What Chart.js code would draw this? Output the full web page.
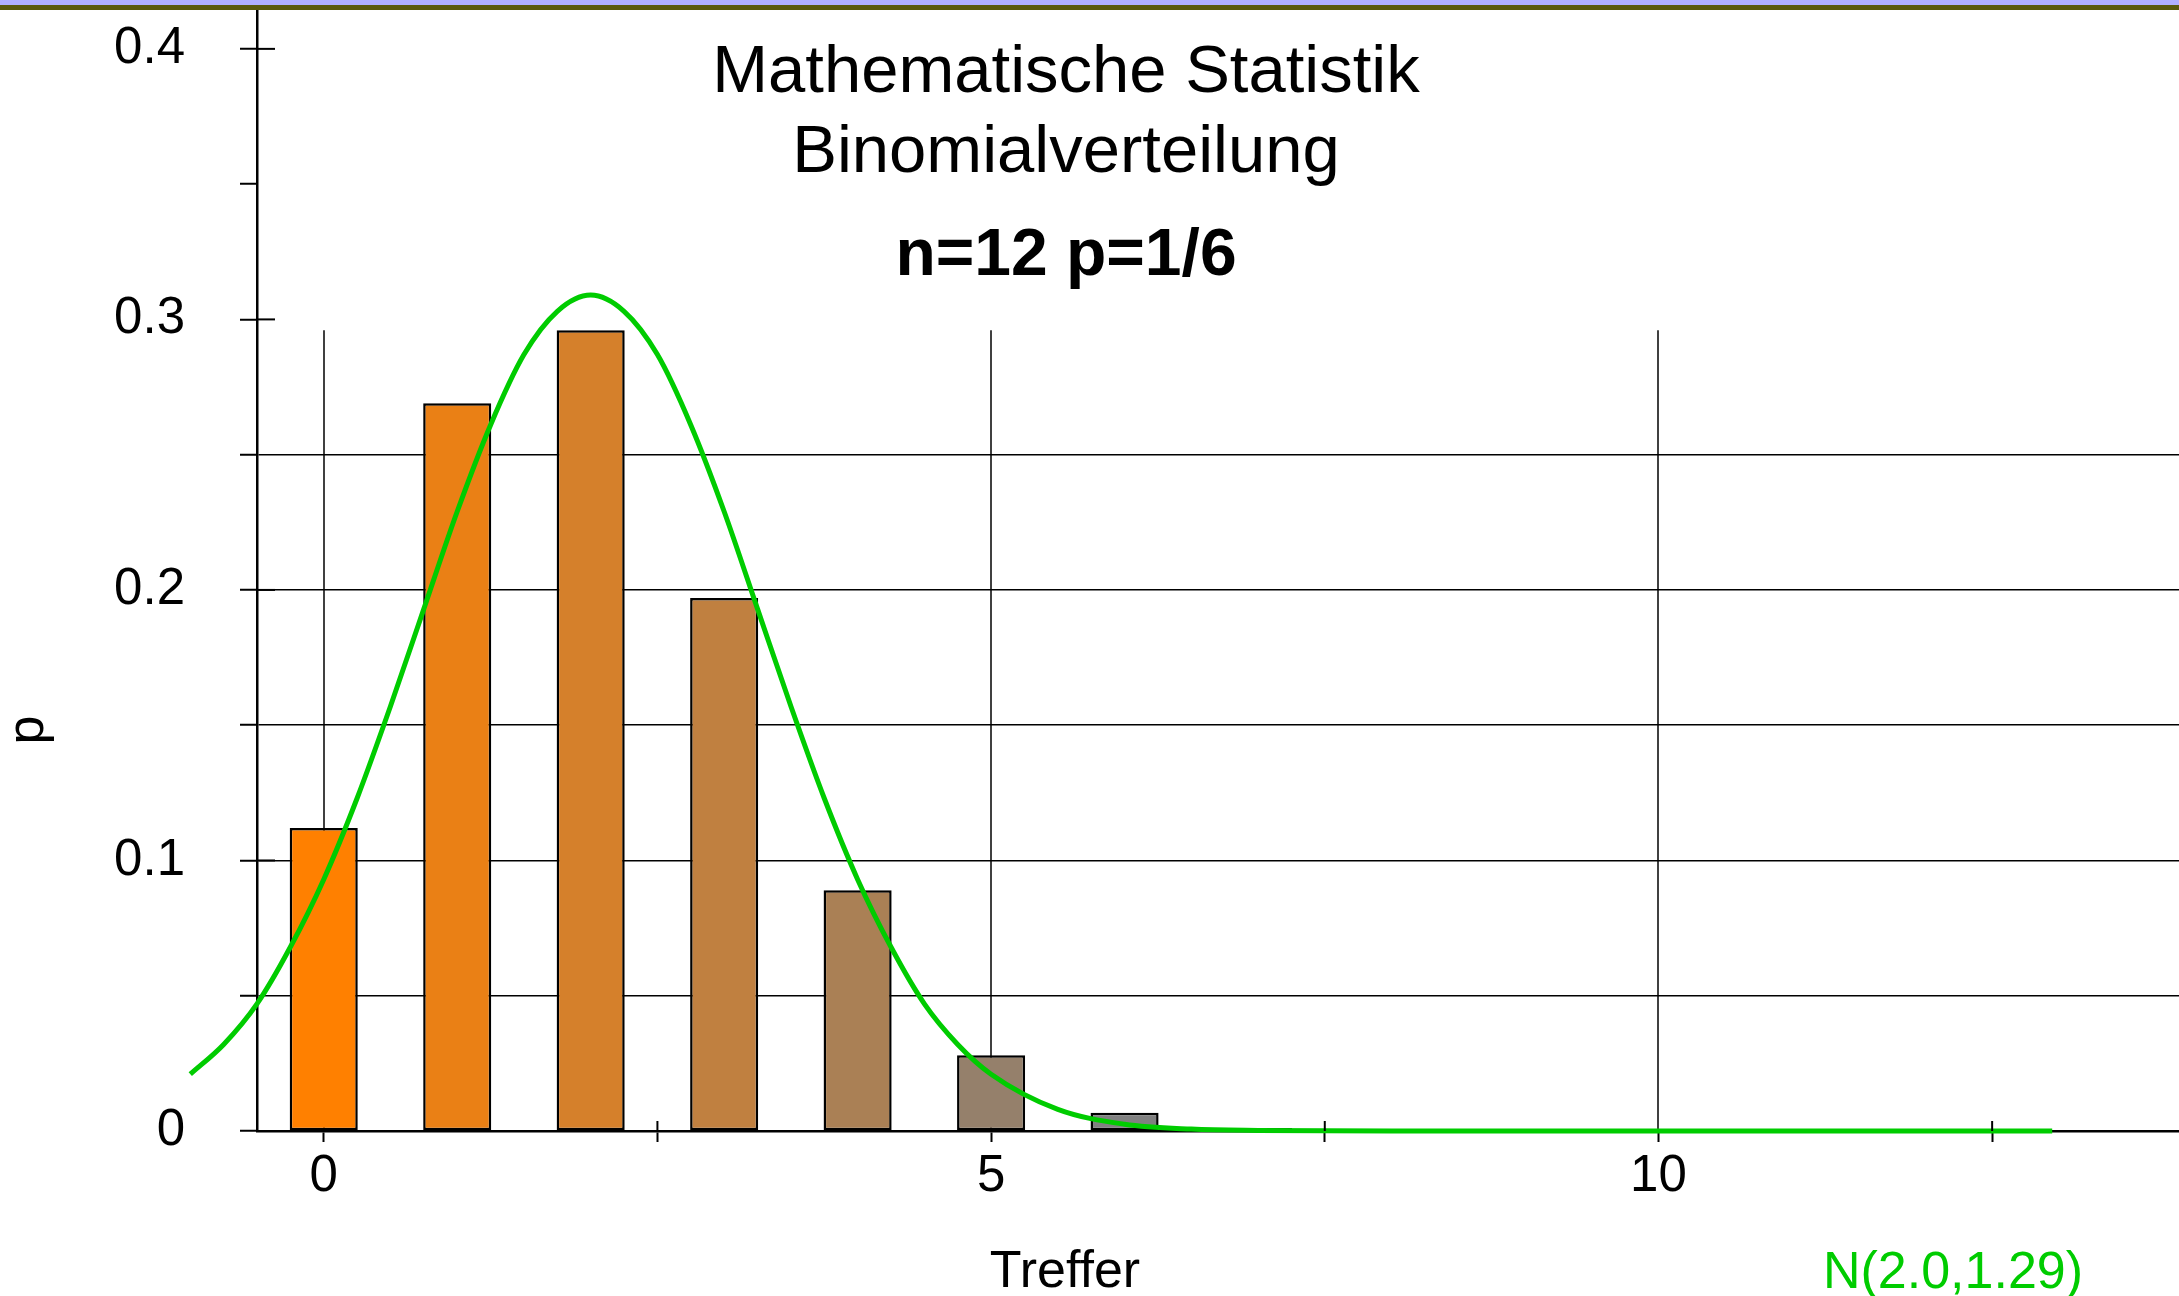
<!DOCTYPE html>
<html>
<head>
<meta charset="utf-8">
<title>Binomialverteilung n=12 p=1/6</title>
<script src="https://cdn.jsdelivr.net/npm/chart.js@4"></script>
<style>
  body { margin: 0; background: #fff; }
  #page { position: relative; width: 2179px; height: 1296px; overflow: hidden; }
  #band { position: absolute; left: 0; top: 0; width: 2179px; height: 5px; background: #b0b0ff; border-bottom: 5px solid #5a5a0c; z-index: 2; }
  #chart { position: absolute; left: 0; top: 0; }
</style>
</head>
<body>
<div id="page">
  <div id="band"></div>
  <canvas id="chart" width="2179" height="1296"></canvas>
</div>
<script>
// Binomial n=12, p=1/6 : hits and probabilities
const HITS = [0, 1, 2, 3, 4, 5, 6, 7, 8, 9, 10, 11, 12];
const PROBABILITIES = [0.112, 0.269, 0.296, 0.197, 0.089, 0.028, 0.0067, 0.0011, 0.0001, 0, 0, 0, 0];

// green normal curve N(2.0,1.29)
const CURVE_X = [-1, -0.75, -0.5, -0.25, 0, 0.25, 0.5, 0.75, 1, 1.25, 1.5, 1.75, 2,
                 2.25, 2.5, 2.75, 3, 3.25, 3.5, 3.75, 4, 4.25, 4.5, 4.75, 5,
                 5.5, 6, 6.5, 7, 8, 9, 10, 11, 12, 12.95];
const CURVE_Y = [0.021, 0.032, 0.047, 0.068, 0.093, 0.123, 0.157, 0.193, 0.229, 0.261, 0.287, 0.303, 0.309,
                 0.303, 0.287, 0.261, 0.229, 0.193, 0.157, 0.123, 0.093, 0.068, 0.047, 0.032, 0.021,
                 0.008, 0.0025, 0.0007, 0.0002, 0, 0, 0, 0, 0, 0];

const X_RANGE = [-0.5, 13.9];
const Y_RANGE = [0, 0.414];
const X_TICKS = [0, 2.5, 5, 7.5, 10, 12.5];
const X_TICK_LABELS = ["0", "", "5", "", "10", ""];
const Y_TICKS = [0, 0.05, 0.1, 0.15, 0.2, 0.25, 0.3, 0.35, 0.4];
const Y_TICK_LABELS = ["0", "", "0.1", "", "0.2", "", "0.3", "", "0.4"];
const GRID_X = [0, 5, 10];
const GRID_Y = [0.05, 0.1, 0.15, 0.2, 0.25];

const TITLE_LINES = ["Mathematische Statistik", "Binomialverteilung", "n=12 p=1/6"];
const X_TITLE = "Treffer";
const Y_TITLE = "p";
const CURVE_LABEL = "N(2.0,1.29)";

const BAR_COLORS = ["#ff8000", "#ea8015", "#d5802b", "#c08040", "#aa8055", "#95806b", "#808080",
                    "#6b8095", "#5580aa", "#4080c0", "#2b80d5", "#1580ea", "#0080ff"];
const GREEN = "#00cc00";
const FONT = "'Liberation Sans', Arial, Helvetica, sans-serif";

Chart.defaults.font.family = FONT;
Chart.defaults.color = "#000";

const decorations = {
  id: "decorations",
  beforeDatasetsDraw(chart) {
    var ctx = chart.ctx;
    var x = chart.scales.x;
    var y = chart.scales.y;
    var top = y.getPixelForValue(Math.max(...PROBABILITIES));
    var bottom = y.getPixelForValue(0);

    ctx.save();
    ctx.strokeStyle = "#000";
    ctx.lineWidth = 1.5;
    for (const v of GRID_X) {
      var px = Math.round(x.getPixelForValue(v));
      ctx.beginPath();
      ctx.moveTo(px, top);
      ctx.lineTo(px, bottom);
      ctx.stroke();
    }
    ctx.restore();
  },
  afterDraw(chart) {
    var ctx = chart.ctx;
    var x = chart.scales.x;
    var y = chart.scales.y;
    var area = chart.chartArea;

    ctx.save();
    // inner halves of the crossing tick marks
    ctx.strokeStyle = "#000";
    ctx.lineWidth = 2;
    Y_TICKS.forEach((v, i) => {
      if (Y_TICK_LABELS[i] === "") return;
      var py = y.getPixelForValue(v);
      ctx.beginPath();
      ctx.moveTo(area.left, py);
      ctx.lineTo(area.left + 18, py);
      ctx.stroke();
    });
    X_TICKS.forEach((v, i) => {
      if (X_TICK_LABELS[i] !== "") return;
      var px = x.getPixelForValue(v);
      ctx.beginPath();
      ctx.moveTo(px, area.bottom);
      ctx.lineTo(px, area.bottom - 10);
      ctx.stroke();
    });

    // titles
    ctx.fillStyle = "#000";
    ctx.textAlign = "center";
    ctx.textBaseline = "alphabetic";
    ctx.font = "67px " + FONT;
    ctx.fillText(TITLE_LINES[0], 1066, 92);
    ctx.fillText(TITLE_LINES[1], 1066, 172);
    ctx.font = "bold 66px " + FONT;
    ctx.fillText(TITLE_LINES[2], 1066, 275);

    // axis titles
    ctx.font = "52px " + FONT;
    ctx.fillText(X_TITLE, 1065, 1287);
    ctx.save();
    ctx.translate(43, 730);
    ctx.rotate(-Math.PI / 2);
    ctx.fillText(Y_TITLE, 0, 0);
    ctx.restore();

    // curve label
    ctx.fillStyle = GREEN;
    ctx.fillText(CURVE_LABEL, 1953, 1288);
    ctx.restore();
  }
};

// range set after the data limits, so the curve points left of the y axis are kept
function setXRange(s) {
  s.min = X_RANGE[0];
  s.max = X_RANGE[1];
}

function buildChart() {
  var barData = HITS.map((h, i) => ({ x: h, y: PROBABILITIES[i] }));
  var curveData = CURVE_X.map((v, i) => ({ x: v, y: CURVE_Y[i] }));
  var tickFont = { size: 51 };

  new Chart("chart", {
    type: "bar",
    data: {
      datasets: [
        {
          type: "line",
          data: curveData,
          borderColor: GREEN,
          borderWidth: 5,
          pointRadius: 0,
          fill: false,
          cubicInterpolationMode: "monotone",
          clip: false,
          order: 0
        },
        {
          type: "bar",
          data: barData,
          backgroundColor: BAR_COLORS,
          borderColor: "#000",
          borderWidth: 2.5,
          borderSkipped: false,
          barPercentage: 0.51,
          categoryPercentage: 1,
          order: 1
        }
      ]
    },
    options: {
      responsive: false,
      animation: false,
      devicePixelRatio: 1,
      layout: { padding: { top: 11, right: 0, bottom: 0, left: 0 } },
      plugins: {
        legend: { display: false },
        tooltip: { enabled: false },
        title: { display: false }
      },
      scales: {
        x: {
          type: "linear",
          bounds: "data",
          offset: false,
          afterDataLimits: setXRange,
          afterBuildTicks: s => {
            s.ticks = X_TICKS.map(v => ({ value: v }));
            setXRange(s);
          },
          afterFit: s => {
            s.height = 165;
            s.paddingLeft = 0;
            s.paddingRight = 0;
          },
          ticks: {
            callback: (v, i) => X_TICK_LABELS[i],
            font: tickFont,
            color: "#000",
            padding: 4,
            maxRotation: 0,
            autoSkip: false
          },
          grid: { drawOnChartArea: false, offset: false, tickLength: 11, tickWidth: 2, tickColor: "#000" },
          border: { color: "#000", width: 2.5 }
        },
        y: {
          type: "linear",
          min: Y_RANGE[0],
          max: Y_RANGE[1],
          afterBuildTicks: s => { s.ticks = Y_TICKS.map(v => ({ value: v })); },
          afterFit: s => {
            s.width = 257;
            s.paddingTop = 0;
            s.paddingBottom = 0;
          },
          ticks: {
            callback: (v, i) => Y_TICK_LABELS[i],
            font: tickFont,
            color: "#000",
            padding: 55,
            autoSkip: false
          },
          grid: {
            color: c => (c.tick && GRID_Y.includes(c.tick.value)) ? "#000" : "rgba(0,0,0,0)",
            lineWidth: 1.5,
            tickLength: 17,
            tickWidth: 2,
            tickColor: "#000"
          },
          border: { color: "#000", width: 2.5 }
        }
      }
    },
    plugins: [decorations]
  });
}

buildChart();
</script>
</body>
</html>
